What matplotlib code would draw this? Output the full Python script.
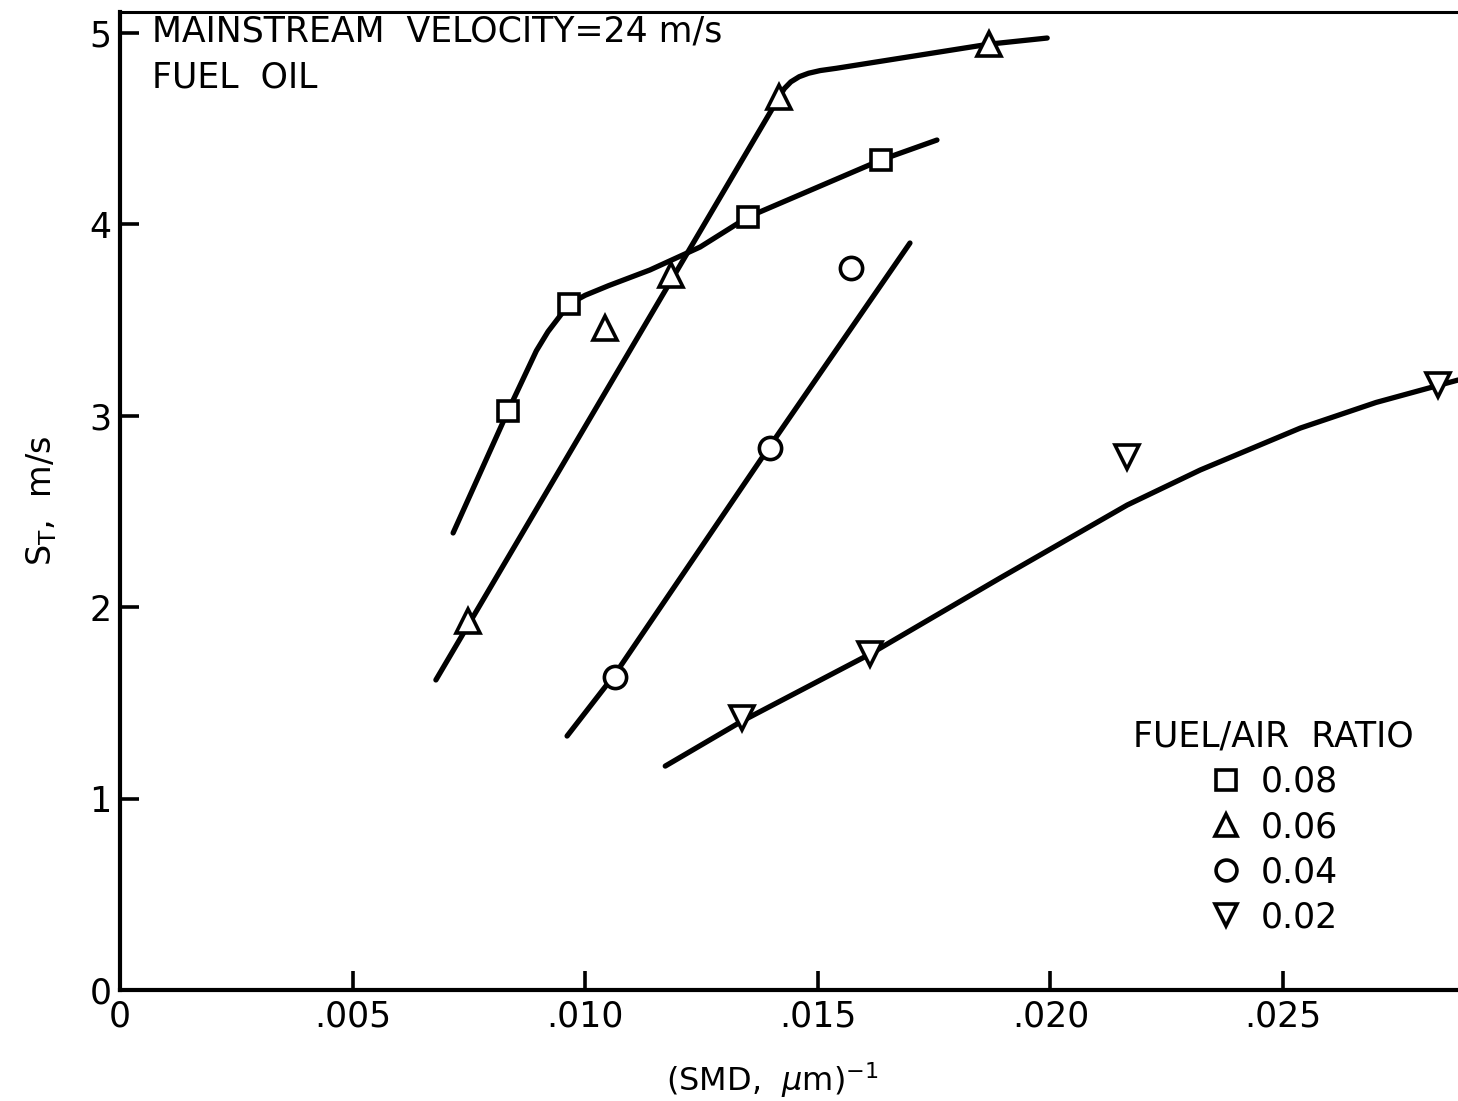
import matplotlib
matplotlib.use("Agg")
import matplotlib.pyplot as plt
from matplotlib.lines import Line2D

plt.rcParams['font.family'] = ['DejaVu Sans']
plt.rcParams['mathtext.fontset'] = 'dejavusans'

# Measured points, turbulent flame speed vs inverse Sauter mean diameter
fa_labels = ["0.08", "0.06", "0.04", "0.02"]

sq_x = [0.00834, 0.00965, 0.01350, 0.01636]
sq_y = [3.025, 3.584, 4.040, 4.337]
tri_x = [0.00748, 0.01043, 0.01184, 0.01417, 0.01868]
tri_y = [1.928, 3.459, 3.736, 4.666, 4.942]
circ_x = [0.01064, 0.01397, 0.01571]
circ_y = [1.635, 2.832, 3.772]
dtri_x = [0.01337, 0.01612, 0.02165, 0.02833]
dtri_y = [1.420, 1.755, 2.785, 3.160]

# Faired curves through each fuel/air ratio
sq_cx = [0.00716, 0.00834, 0.00895, 0.00920, 0.00942, 0.00965, 0.01000, 0.01050,
         0.01139, 0.01247, 0.01350, 0.01636, 0.01756]
sq_cy = [2.388, 3.025, 3.340, 3.440, 3.510, 3.584, 3.630, 3.680,
         3.762, 3.882, 4.039, 4.337, 4.441]
tri_cx = [0.00679, 0.01417, 0.01428, 0.01442, 0.01460, 0.01480, 0.01505, 0.01540,
          0.01868, 0.01993]
tri_cy = [1.620, 4.666, 4.710, 4.745, 4.772, 4.790, 4.804, 4.816,
          4.942, 4.974]
circ_cx = [0.00961, 0.01064, 0.01397, 0.01698]
circ_cy = [1.327, 1.650, 2.842, 3.903]
dtri_cx = [0.01172, 0.01337, 0.01612, 0.01892, 0.02165, 0.02322, 0.02537, 0.02700, 0.02876]
dtri_cy = [1.170, 1.405, 1.755, 2.153, 2.534, 2.717, 2.936, 3.070, 3.187]

x_ticks = [0, 0.005, 0.010, 0.015, 0.020, 0.025]
x_ticklabels = ["0", ".005", ".010", ".015", ".020", ".025"]
y_ticks = [0, 1, 2, 3, 4, 5]
y_ticklabels = ["0", "1", "2", "3", "4", "5"]

fig = plt.figure(figsize=(14.58, 11.01), dpi=100)
ax = fig.add_axes([120 / 1458, 111 / 1101, 1 - 120 / 1458, (990 - 12) / 1101])
ax.set_xlim(0, 0.02876)
ax.set_ylim(0, 5.11)

lw = 3.8
for cx, cy in [(sq_cx, sq_cy), (tri_cx, tri_cy), (circ_cx, circ_cy), (dtri_cx, dtri_cy)]:
    ax.plot(cx, cy, color='black', lw=lw, solid_capstyle='round',
            solid_joinstyle='round', zorder=2)

mkw = dict(linestyle='none', markerfacecolor='white', markeredgecolor='black',
           markeredgewidth=2.6, zorder=3, clip_on=False)
ax.plot(sq_x, sq_y, marker='s', markersize=15, **mkw)
ax.plot(tri_x, tri_y, marker='^', markersize=17, **mkw)
ax.plot(circ_x, circ_y, marker='o', markersize=16, **mkw)
ax.plot(dtri_x, dtri_y, marker='v', markersize=17, **mkw)

# Axes styling
for side in ['left', 'bottom']:
    ax.spines[side].set_linewidth(3.0)
ax.spines['top'].set_linewidth(2.2)
ax.spines['right'].set_visible(False)

ax.set_xticks(x_ticks)
ax.set_xticklabels(x_ticklabels)
ax.set_yticks(y_ticks)
ax.set_yticklabels(y_ticklabels)
ax.tick_params(axis='both', direction='in', length=14, width=2.6, labelsize=25)
ax.tick_params(axis='x', pad=7)
ax.tick_params(axis='y', pad=6)

ax.set_xlabel(r"(SMD,  $\mu$m)$^{\mathregular{-1}}$", fontsize=23)
ax.xaxis.set_label_coords((772 - 120) / 1338, -0.072)
ax.set_ylabel(r"S$_{\mathregular{T}}$,  m/s", fontsize=24, labelpad=22)

ax.text(0.00069, 5.01, "MAINSTREAM  VELOCITY=24 m/s", fontsize=25, va='center', ha='left')
ax.text(0.00069, 4.77, "FUEL  OIL", fontsize=25, va='center', ha='left')

legend_markers = ['s', '^', 'o', 'v']
legend_sizes = [15, 16, 15, 16]
handles = [
    Line2D([], [], marker=m, markersize=s, linestyle='none', markerfacecolor='white',
           markeredgecolor='black', markeredgewidth=2.6)
    for m, s in zip(legend_markers, legend_sizes)
]
leg = ax.legend(handles, fa_labels, title="FUEL/AIR  RATIO", frameon=False,
                fontsize=25, title_fontsize=25, loc='center',
                bbox_to_anchor=((1273 - 120) / 1338, (990 - 827) / 978),
                handlelength=1.0, handletextpad=0.5, labelspacing=0.32,
                borderpad=0.0)

fig.savefig("out.png", dpi=100)
